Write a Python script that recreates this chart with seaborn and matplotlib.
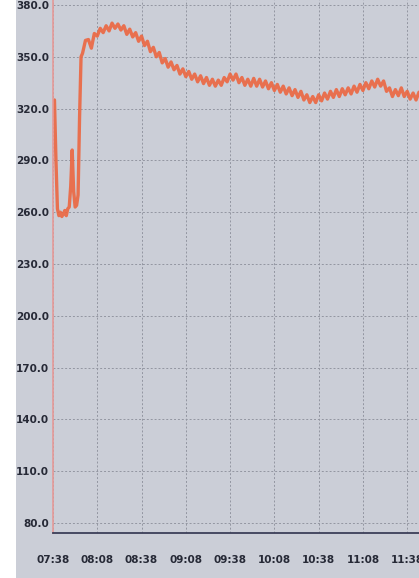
import matplotlib
matplotlib.use("Agg")
import matplotlib.pyplot as plt
import seaborn as sns
import pandas as pd
from matplotlib.patches import Rectangle

# ---- data ----
minutes = [1, 2, 3, 4, 5, 6, 7, 8, 9, 10, 11, 12, 13, 14, 15, 16, 17, 18, 19,
           20, 22, 24, 26, 28, 30, 32, 34, 36, 38, 40, 42, 44, 46, 48, 50,
           52, 54, 56, 58, 60, 62, 64, 66, 68, 70, 72, 74, 76, 78, 80, 82,
           84, 86, 88, 90, 92, 94, 96, 98, 100, 102, 104, 106, 108, 110, 112,
           114, 116, 118, 120, 122, 124, 126, 128, 130, 132, 134, 136, 138,
           140, 142, 144, 146, 148, 150, 152, 154, 156, 158, 160, 162, 164,
           166, 168, 170, 172, 174, 176, 178, 180, 182, 184, 186, 188, 190,
           192, 194, 196, 198, 200, 202, 204, 206, 208, 210, 212, 214, 216,
           218, 220, 222, 224, 226, 228, 230, 232, 234, 236, 238, 240, 242,
           244, 246, 248]
temperature = [325, 290, 262, 258, 260, 257.5, 259, 261, 258, 262, 263, 275,
               296, 272, 263, 264, 270, 315, 350,
               352, 359.5, 360, 355, 363.5, 362, 366.5, 364, 368, 365, 369.5,
               366.5, 369, 365.5, 368, 363, 366, 361.5, 364, 359, 362, 356.5,
               359, 353, 355.5, 350, 352.5, 346.5, 349, 344, 347, 342.5, 345,
               340, 343, 338.5, 341.5, 337, 340, 335.5, 339, 334.5, 338, 333.5,
               337, 333, 336.5, 333.5, 338, 335.5, 340, 336.5, 340, 335, 338,
               333.5, 337, 333, 337.5, 333, 337, 332.5, 336, 331.5, 335, 330.5,
               334, 329.5, 333, 328.5, 332, 327.5, 331, 326.5, 330, 325, 328,
               323.5, 327, 323.5, 328, 324.5, 329, 325.5, 330, 326.5, 331, 327,
               331.5, 328, 332, 328.5, 333, 329.5, 334, 330.5, 335, 331.5, 336,
               332.5, 337, 333, 336, 330, 332, 327, 331, 327.5, 332, 327, 330,
               325.5, 329, 325, 329.5]
x_tick_values = [0, 30, 60, 90, 120, 150, 180, 210, 240]
x_tick_labels = ["07:38", "08:08", "08:38", "09:08", "09:38",
                 "10:08", "10:38", "11:08", "11:38"]
y_tick_values = [80, 110, 140, 170, 200, 230, 260, 290, 320, 350, 380]

df = pd.DataFrame({"minute": minutes, "temperature": temperature})

bg = "#cbced7"
sns.set_style("whitegrid", {"axes.facecolor": bg, "figure.facecolor": bg})
plt.rcParams["font.family"] = ["DejaVu Sans"]

fig = plt.figure(figsize=(4.19, 5.78), dpi=100)
fig.patch.set_facecolor(bg)
fig.patches.append(Rectangle((0, 0), 16 / 419, 1, transform=fig.transFigure,
                             facecolor="white", edgecolor="none", zorder=-1))
ax = fig.add_axes([53 / 419, 45 / 578, 1 - 53 / 419, 1 - 45 / 578])
ax.set_facecolor(bg)

sns.lineplot(data=df, x="minute", y="temperature", ax=ax,
             color="#ec6640", linewidth=2.4, alpha=0.9)

ax.set_xlim(0, 248)
ax.set_ylim(74.2, 382.9)
ax.set_xticks(x_tick_values)
ax.set_xticklabels(x_tick_labels)
ax.set_yticks(y_tick_values)
ax.set_yticklabels([f"{v:.1f}" for v in y_tick_values])
ax.set_xlabel("")
ax.set_ylabel("")

ax.grid(True, color="#9396a1", linestyle=(0, (2, 2)), linewidth=0.7)
for side in ["top", "right"]:
    ax.spines[side].set_visible(False)
ax.spines["left"].set_color("#e59a98")
ax.spines["left"].set_linewidth(1.2)
ax.spines["bottom"].set_color("#3b3f58")
ax.spines["bottom"].set_linewidth(1.3)

ax.tick_params(axis="x", which="major", direction="out", length=6, width=1.2,
               color="#3b3f58", pad=10, labelsize=7.5, labelcolor="#262936")
ax.tick_params(axis="y", which="major", length=0, pad=3, labelsize=7.5,
               labelcolor="#262936")
for lab in ax.get_xticklabels() + ax.get_yticklabels():
    lab.set_fontweight("bold")

fig.savefig("out.png", dpi=100, facecolor=bg)
